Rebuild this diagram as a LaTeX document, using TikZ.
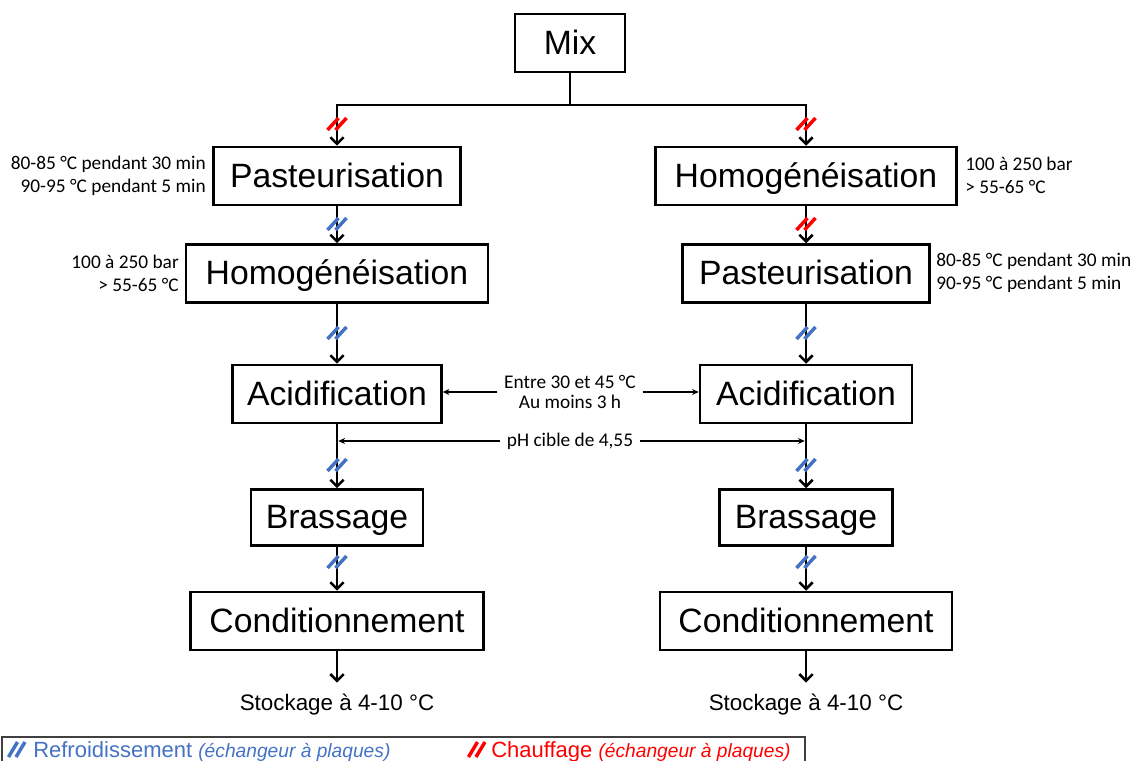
\documentclass[tikz,border=0pt]{standalone}
\usepackage{fontspec}
\setmainfont{Liberation Sans}
\newfontfamily\calfont{Carlito}
\usetikzlibrary{arrows.meta}
\definecolor{coolblue}{RGB}{68,114,196}
\definecolor{heatred}{RGB}{255,0,0}
\begin{document}
\begin{tikzpicture}[x=0.75pt,y=-0.75pt,
  box/.style={draw, line width=1.9pt, inner sep=0pt, minimum height=43.5pt,
    text height=21.5pt, text depth=5pt,
    font=\fontsize{25.3pt}{30pt}\selectfont},
  conn/.style={line width=1.9pt},
  arr/.style={line width=1.9pt, -{Straight Barb[length=5pt,width=10pt]}},
  thinarr/.style={line width=0.8pt, -{Stealth[length=5pt,width=4.5pt]}},
  side/.style={font=\calfont\fontsize{14.5pt}{17.25pt}\selectfont, inner sep=0pt},
  midtxt/.style={font=\calfont\fontsize{14.5pt}{15pt}\selectfont, inner ysep=0pt, inner xsep=5pt, align=center},
  stock/.style={font=\fontsize{16.8pt}{20pt}\selectfont, inner sep=0pt, anchor=base},
  legtxt/.style={anchor=base west, inner sep=0pt, font=\fontsize{16.5pt}{18pt}\selectfont},
  pics/slashes/.style={code={\draw[line width=2.6pt,#1] (-9.5,6) -- (1.5,-6) (-1.5,6) -- (9.5,-6);}},
  pics/bigslashes/.style={code={\draw[line width=2.6pt,#1] (-9.5,8) -- (-0.5,-7) (-2,8) -- (7,-7);}}
]
\useasboundingbox (0,0) rectangle (1137,760);
\clip (0,0) rectangle (1137,760);

% boxes
\node[box, minimum width=82.5pt] (mix) at (570,43) {Mix};

\node[box, minimum width=185.25pt] (lpast) at (337,176) {Pasteurisation};
\node[box, minimum width=226.5pt] (lhomo) at (337,273.5) {Homogénéisation};
\node[box, minimum width=156.75pt] (lacid) at (337,394) {Acidification};
\node[box, minimum width=129pt, minimum height=42pt] (lbras) at (337,517.5) {Brassage};
\node[box, minimum width=219.75pt] (lcond) at (337,621) {Conditionnement};

\node[box, minimum width=225.75pt] (rhomo) at (806,176) {Homogénéisation};
\node[box, minimum width=185.25pt] (rpast) at (806,273.5) {Pasteurisation};
\node[box, minimum width=159pt] (racid) at (806,394) {Acidification};
\node[box, minimum width=129.75pt, minimum height=42pt] (rbras) at (806,517.5) {Brassage};
\node[box, minimum width=219pt] (rcond) at (806,621) {Conditionnement};

\node[stock] (lstock) at (337,710) {Stockage à 4-10 °C};
\node[stock] (rstock) at (806,710) {Stockage à 4-10 °C};

% connectors
\coordinate (split) at (570,105);
\draw[conn] (mix.south) -- (split);
\draw[arr] (split) -| (lpast.north);
\draw[arr] (split) -| (rhomo.north);

\draw[arr] (lpast.south) -- (lhomo.north);
\draw[arr] (lhomo.south) -- (lacid.north);
\draw[arr] (lacid.south) -- (lbras.north);
\draw[arr] (lbras.south) -- (lcond.north);
\draw[arr, shorten >=8pt] (lcond.south) -- (lstock.north);

\draw[arr] (rhomo.south) -- (rpast.north);
\draw[arr] (rpast.south) -- (racid.north);
\draw[arr] (racid.south) -- (rbras.north);
\draw[arr] (rbras.south) -- (rcond.north);
\draw[arr, shorten >=8pt] (rcond.south) -- (rstock.north);

% heat / cool marks
\pic at (337,124) {slashes=heatred};
\pic at (806,124) {slashes=heatred};
\pic at (337,224) {slashes=coolblue};
\pic at (806,224) {slashes=heatred};
\pic at (337,333) {slashes=coolblue};
\pic at (806,333) {slashes=coolblue};
\pic at (337,465) {slashes=coolblue};
\pic at (806,465) {slashes=coolblue};
\pic at (337,562) {slashes=coolblue};
\pic at (806,562) {slashes=coolblue};

% side labels
\node[side, anchor=east, align=right] (lpastlbl) at (206,176) {80-85 °C pendant 30 min\\90-95 °C pendant 5 min};
\node[side, anchor=east, align=right] (lhomolbl) at (179,273) {100 à 250 bar\\> 55-65 °C};
\node[side, anchor=west, align=left] (rhomolbl) at (965,175) {100 à 250 bar\\> 55-65 °C};
\node[side, anchor=west, align=left] (rpastlbl) at (936,273) {80-85 °C pendant 30 min\\90-95 °C pendant 5 min};

% middle labels
\node[midtxt] (temp) at (570,392) {Entre 30 et 45 °C\\Au moins 3 h};
\draw[thinarr] (temp.west) -- (temp.west -| lacid.east);
\draw[thinarr] (temp.east) -- (temp.east -| racid.west);
\node[midtxt] (ph) at (570,441) {pH cible de 4,55};
\draw[thinarr, shorten >=1pt] (ph.west) -- (ph.west -| lacid.south);
\draw[thinarr, shorten >=1pt] (ph.east) -- (ph.east -| racid.south);

% legend
\draw[line width=0.9pt, black!75] (2,737) rectangle (805,780);
\pic at (18,749) {bigslashes=coolblue};
\node[legtxt, text=coolblue] (leg1) at (33,757) {Refroidissement {\fontsize{14.4pt}{16pt}\selectfont\itshape (échangeur à plaques)}};
\pic at (478,749) {bigslashes=heatred};
\node[legtxt, text=heatred] (leg2) at (491,757) {Chauffage {\fontsize{14.4pt}{16pt}\selectfont\itshape (échangeur à plaques)}};
\end{tikzpicture}
\end{document}
